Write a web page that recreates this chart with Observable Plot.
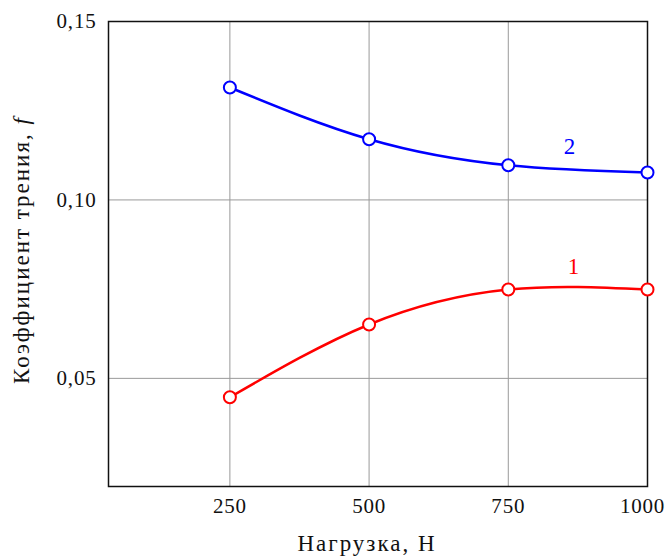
<!DOCTYPE html>
<html><head><meta charset="utf-8">
<script src="https://cdn.jsdelivr.net/npm/d3@7"></script>
<script src="https://cdn.jsdelivr.net/npm/@observablehq/plot@0.6"></script>
<style>
body{margin:0;background:#fff;}
svg{font-family:"Liberation Serif","Times New Roman",serif;}
svg g[aria-label$="tick label"] text{letter-spacing:0.8px;}
</style>
</head><body>
<div id="chart"></div>
<script>
const loads = [250, 500, 750, 1000];
const series1 = [0.0447, 0.0651, 0.0749, 0.0749]; // curve 1 (red)
const series2 = [0.1315, 0.1170, 0.1097, 0.1077]; // curve 2 (blue)
const xTicks = [250, 500, 750, 1000];
const yTicks = [0.05, 0.10, 0.15];
const seriesNames = ["1", "2"];
const seriesColors = ["#ff0000", "#0000ff"];
const labelX = [867, 860];
const labelY = [0.0814, 0.1150];

const data = [];
loads.forEach((x, i) => data.push({s: "1", x, y: series1[i]}));
loads.forEach((x, i) => data.push({s: "2", x, y: series2[i]}));
const labels = seriesNames.map((s, i) => ({s, x: labelX[i], y: labelY[i]}));
const fmt = d => d3.format(".2f")(d).replace(".", ",");

const plot = Plot.plot({
  width: 666, height: 557,
  marginLeft: 108, marginRight: 19, marginTop: 21, marginBottom: 71,
  style: {fontFamily: '"Liberation Serif", serif', fontSize: "20px", background: "#fff"},
  x: {domain: [32, 1000], ticks: xTicks, label: null},
  y: {domain: [0.0197, 0.15], ticks: yTicks, label: null, tickFormat: fmt},
  color: {domain: seriesNames, range: seriesColors},
  marks: [
    Plot.gridX(xTicks, {stroke: "#999", strokeOpacity: 1, strokeWidth: 1}),
    Plot.gridY(yTicks, {stroke: "#999", strokeOpacity: 1, strokeWidth: 1}),
    Plot.axisX(xTicks, {tickSize: 0, tickPadding: 12, fontSize: 21, fill: "#111", tickFormat: d => String(d)}),
    Plot.axisY(yTicks, {tickSize: 0, tickPadding: 12, fontSize: 21, fill: "#111", tickFormat: fmt}),
    Plot.frame({stroke: "#111", strokeWidth: 1.5}),
    Plot.line(data, {x: "x", y: "y", z: "s", stroke: "s", strokeWidth: 2.5, curve: "natural"}),
    Plot.dot(data, {x: "x", y: "y", stroke: "s", fill: "white", r: 6, strokeWidth: 2}),
    Plot.text(labels, {x: "x", y: "y", text: "s", fill: "s", fontSize: 23})
  ]
});
document.getElementById("chart").appendChild(plot);

const svg = d3.select(plot);
svg.selectAll('g[aria-label="x-axis tick label"] text')
  .filter(function() { return this.textContent === "1000"; })
  .attr("dx", -5);
svg.append("text")
  .attr("x", 367).attr("y", 551)
  .attr("text-anchor", "middle")
  .attr("font-size", 23).attr("letter-spacing", 2).attr("fill", "#111")
  .text("Нагрузка, Н");
const yl = svg.append("text")
  .attr("transform", "translate(29,250) rotate(-90)")
  .attr("text-anchor", "middle")
  .attr("font-size", 23).attr("letter-spacing", 2).attr("fill", "#111");
yl.append("tspan").text("Коэффициент трения, ");
yl.append("tspan").attr("font-style", "italic").text("f");
</script>
</body></html>
